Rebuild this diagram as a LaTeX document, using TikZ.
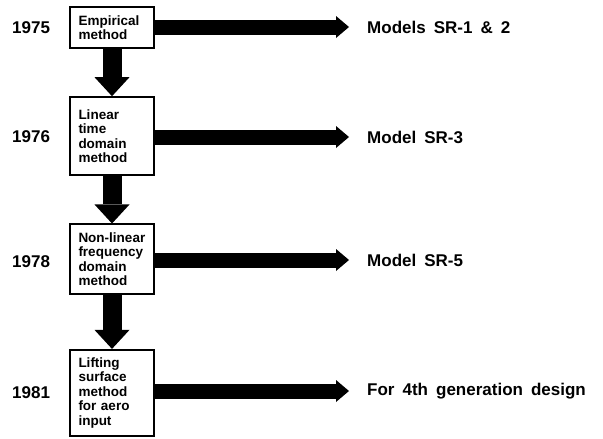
\documentclass[tikz,border=0pt]{standalone}
\usepackage{fontspec}
\setmainfont{Liberation Sans}
\newfontfamily\widefont[WordSpace=1.7]{Liberation Sans}
\usetikzlibrary{arrows.meta}
\tikzset{
  stage/.style={draw, line width=1.6pt, text width=67pt, align=left, inner xsep=8.5pt, inner ysep=8pt,
    font=\fontsize{13.5}{14.5}\selectfont\bfseries},
  year/.style={anchor=west, inner sep=0pt, font=\fontsize{17}{20}\selectfont\bfseries},
  result/.style={anchor=west, inner sep=4pt, font=\widefont\fontsize{17}{20}\selectfont\bfseries},
  downarrow/.style={line width=19pt, -{Triangle[length=19pt,width=35pt,line width=0pt]}},
  rightarrow/.style={line width=15pt, shorten >=14pt, -{Triangle[length=13pt,width=22pt,line width=0pt]}}
}
\begin{document}
\begin{tikzpicture}[x=1pt, y=1pt]
	\useasboundingbox (0,0) rectangle (603,-439);
	% method boxes
	\node[stage] (b1) at (112,-27.5) {Empirical\\method};
	\node[stage, minimum height=78pt] (b2) at (112,-136) {Linear\\time\\domain\\method};
	\node[stage] (b3) at (112,-259) {Non-linear\\frequency\\domain\\method};
	\node[stage] (b4) at (112,-393) {Lifting\\surface\\method\\for aero\\input};
	% years
	\node[year] (y1) at (12,-28) {1975};
	\node[year] (y2) at (12,-137) {1976};
	\node[year] (y3) at (12,-262) {1978};
	\node[year] (y4) at (12,-393) {1981};
	% results
	\node[result] (r1) at (363,-27) {Models SR-1 \& 2};
	\node[result] (r2) at (363,-137) {Model SR-3};
	\node[result] (r3) at (363,-260) {Model SR-5};
	\node[result] (r4) at (363,-391) {For 4th generation design};
	% arrows
	\draw[downarrow] (b1.south) -- (b2.north);
	\draw[downarrow] (b2.south) -- (b3.north);
	\draw[downarrow] (b3.south) -- (b4.north);
	\draw[rightarrow] (b1.east |- r1.west) -- (r1.west);
	\draw[rightarrow] (b2.east |- r2.west) -- (r2.west);
	\draw[rightarrow] (b3.east |- r3.west) -- (r3.west);
	\draw[rightarrow] (b4.east |- r4.west) -- (r4.west);
\end{tikzpicture}
\end{document}
